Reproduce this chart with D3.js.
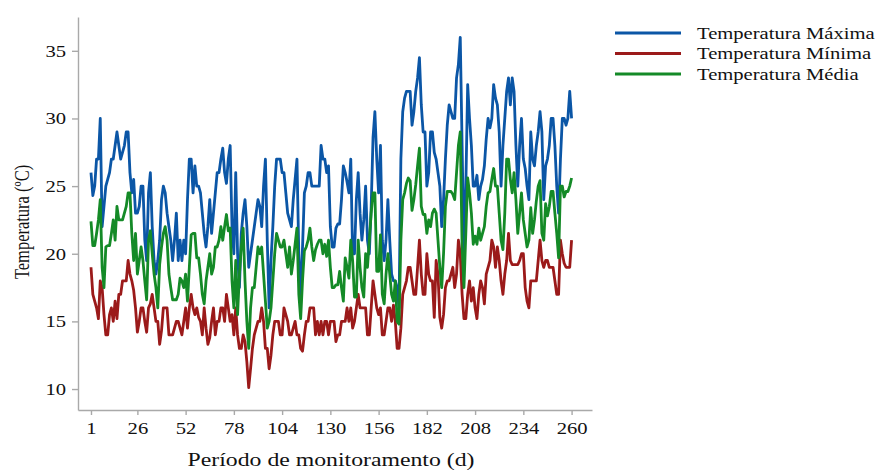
<!DOCTYPE html>
<html>
<head>
<meta charset="utf-8">
<script src="https://cdn.jsdelivr.net/npm/d3@7"></script>
<style>
  html, body { margin: 0; padding: 0; background: #fff; }
  svg { display: block; }
  text { font-family: "Liberation Serif", "Times New Roman", serif; fill: #111; }
</style>
</head>
<body>
<svg id="chart" width="879" height="470"></svg>
<script>
// ---- data ----
const xTicks = [1, 26, 52, 78, 104, 130, 156, 182, 208, 234, 260];
const yTicks = [10, 15, 20, 25, 30, 35];
const seriesNames = ["Temperatura Máxima", "Temperatura Mínima", "Temperatura Média"];
const seriesColors = ["#0b56a6", "#9b1a1a", "#148a27"];

const tMax = [
26,24.3,25,27,27,30,22,23.5,25,25.5, 26,27,27,28,29,28,27,27.5,28,29,
29,26,24.5,25.5,23,23,23.5,25,25,21, 19.5,24.5,26,22,19.5,18.5,19.5,21,24,25,
24.5,23,22,21,19.5,21,23,19.5,21,19.5, 21,20,24,27,27,24.5,26.5,25,25,24.5,
23,21.5,20.5,22,24,21.5,23,24.5,26,26, 27,27.8,26,25.2,27,28,22,20,26,20,
17.5,21.5,23,24,22,19,20,21,22,23, 24,23.5,22,25,27,21,16,19.5,22,25,
27,27,27,26,26,24.5,23,22.5,22,24, 25.5,27,20,16.8,20.5,24.5,25,26,26,25,
25,25,25,25,28,27,27,26,26.5,22, 20.5,20.5,21.9,22.2,22.2,24,26.5,26,25.3,24.5,
27,20,20,24,26,23,21,22.5,25,21, 20,23.5,28.6,30.5,27,24.5,28,21,19.5,21,
24,21,18.5,18,18,17.5,16,27,30.5,31.5, 32,32,32,29.5,30.5,32,33,34.5,31,29,
29,25,26,29,29,27.5,27,26,25,22, 24,27,29.5,31,30.5,30,30,33,34,36,
28,20,25,32.5,30,28,25,25,25.8,24, 25,25.5,26.5,28.5,30,29.3,30,32.5,31.5,31,
29,25,28,30,32,33,31,33,32,28, 25,28,30,27,26.3,25,24,29,27,26.5,
28,29,30.5,29,24,26.5,27,28,30,30, 28,25,23,27,30,30,29.5,30,32,30
];

const tMin = [
19,17,16.5,16,15.2,18,17.5,15.5,14,14, 15.5,16,15,16.5,15.2,17,17,18,18,18,
19.5,18.5,18,17.3,16,14.2,15,16,16,15, 14.2,16,16.3,17,16,15,15,13.3,14.3,16,
16,16,14,14,14,14.5,15,15,14.5,14, 15,16,14.5,16,17,16,15.5,16,15.3,15,
14,16,14.5,13.3,13.8,15,16,14,15,15, 16,16,15,17,16,15,15.5,14,16,14,
13,13,14,13.5,12,10.1,11.5,13,14,14.5, 15,15,16,15,13,13,11.5,12.5,14,15,
15,15,14,14,16,15.5,15,14,14,14.5, 15,14,14,13,12.8,14,15,15,16,16,
16,14,15,14,15,14,15,15,14,15, 15,15,13.5,14,14,15,15,15,16,15,
16,14.5,15,16,17,16,16,16,16,14, 14,16,18,17,16,15.5,16,14,14,15,
16,16,15,16.2,15,13,13,14.5,17,17.5, 18,19,19,18,17,17,19,21,18.5,17,
17,20,18.5,18,18,15.3,19.5,18.5,15.3,14.5, 15.5,17.5,18,18,18.5,19,17.5,18.5,21,20,
17,15.2,15.2,17,18,16.5,17.5,16,15.2,17, 18,17.5,16.3,18.5,19,19.5,21,20.5,19,20.5,
19.5,18,17,18.5,19.5,21.5,19.5,19.2,19.2,19.2, 19.2,19.5,20,20,17.5,16.5,16,18,18,18,
18,19.5,21,19.5,19,19.5,19.5,19,19,19, 18,17,17,21,20,19.3,19,19,19,21
];

const tMed = [
22.4,20.6,20.6,21.5,22.5,24,19,17.5,20.5,20.6, 20.6,21.5,22.5,21,23.5,22.5,22.5,22.5,23,23.5,
24.5,24.5,21.5,19.5,21.5,18.5,19.5,20.5,19.5,18, 16.6,21,21.7,20,18.5,17.5,16,19.2,20.5,21.5,
22,21,18.5,17.5,16.6,16.6,16.6,17,18.2,18, 17.5,18.5,16.5,19,21.4,21.5,21.5,19.7,19.7,18.5,
17,16.3,18,19,20,18.5,19,20.5,20.5,21, 22,21,22,22.9,21.7,21.9,18,16,19.5,15.5,
18.5,20.5,21.9,18,15,13,16,17.5,17.5,19, 20.5,20,20.5,18.5,16.5,14.5,15,16,18,20,
21.5,21,20.5,20.5,21,20,19,20.5,18.5,19.5, 20.7,21.9,17,15.2,18,20.2,20.5,21,21.9,20.5,
19.5,20.3,20.7,21,21,20,20.7,19.8,21,19, 17.5,17.5,17.7,17.7,18.7,17.5,16.5,19.7,19,18.2,
21,19.5,16.8,16.8,21,19,17.5,16.8,20,19, 21,23,24.5,24.5,18.7,18.7,21.4,17,16.3,18.5,
20,18.5,17,16.5,18,15,14.8,21,24,24.5, 25.2,25.6,25.4,23.2,24,25.1,26.5,27.8,23.5,22.9,
22.9,21.5,22.5,22,23,23.3,23,21,19,17.5, 20,23.5,24.6,24.6,24.6,24.4,24,26,28,29,
20.5,17.5,21.5,25.6,24.5,23,20.7,21.3,20.7,21.9, 21,21.5,22,23.5,24.5,24.6,25.5,26.3,25,25,
23,21,20.3,23,27,27,25.5,24.5,26,24, 21.5,23,24.5,22.5,21.5,20.5,21,23.4,21.5,22.5,
23.9,25,25.4,21.5,21,23.7,22.8,23.5,24.6,24.6, 23,21.5,19.7,25,25,24.2,24.6,24.6,25,25.6
];

(function () {
const days = d3.range(1, tMax.length + 1);
const allSeries = [tMax, tMin, tMed];

// ---- layout ----
const svg = d3.select("#chart");
const SX = 1.25; // horizontal text stretch seen in the reference
const mLeft = 78, mRight = 592, mTop = 17, mBottom = 410;

const x = d3.scaleLinear().domain([-6, 271]).range([mLeft, mRight]);
const y = d3.scaleLinear().domain([8.45, 37.5]).range([mBottom, mTop]);

const axisColor = "#a9a9a9";

const gx = svg.append("g")
  .attr("transform", `translate(0,${mBottom})`)
  .call(d3.axisBottom(x).tickValues(xTicks).tickSize(5).tickSizeOuter(0).tickPadding(7));
const gy = svg.append("g")
  .attr("transform", `translate(${mLeft},0)`)
  .call(d3.axisLeft(y).tickValues(yTicks).tickSize(6).tickSizeOuter(0).tickPadding(6));

[gx, gy].forEach(g => {
  g.select(".domain").attr("stroke", axisColor).attr("stroke-width", 1.4);
  g.selectAll(".tick line").attr("stroke", axisColor).attr("stroke-width", 1.4);
  g.selectAll(".tick text")
    .attr("font-family", "Liberation Serif, Times New Roman, serif")
    .attr("font-size", 16.5)
    .attr("fill", "#111");
});
gy.selectAll(".tick text").attr("x", -12 / SX).attr("transform", `scale(${SX},1)`);
gx.selectAll(".tick text").attr("transform", `scale(${SX},1)`);

const line = d3.line()
  .x((d, i) => x(days[i]))
  .y(d => y(d));

allSeries.forEach((s, k) => {
  svg.append("path")
    .datum(s)
    .attr("fill", "none")
    .attr("stroke", seriesColors[k])
    .attr("stroke-width", 2.8)
    .attr("stroke-linejoin", "round")
    .attr("d", line);
});

svg.append("text")
  .attr("transform", `translate(${(mLeft + mRight) / 2 - 4},466) scale(${SX},1)`)
  .attr("text-anchor", "middle")
  .attr("font-size", 19)
  .text("Período de monitoramento (d)");

svg.append("text")
  .attr("transform", `translate(29,222) scale(${SX},1) rotate(-90)`)
  .attr("text-anchor", "middle")
  .attr("font-size", 16.5)
  .text("Temperatura (ºC)");

const legendY = [33, 53.5, 74];
seriesNames.forEach((name, k) => {
  const g = svg.append("g").attr("transform", `translate(615,${legendY[k]})`);
  g.append("line").attr("x1", 0).attr("x2", 66).attr("y1", 0).attr("y2", 0)
    .attr("stroke", seriesColors[k]).attr("stroke-width", 2.8);
  g.append("text")
    .attr("transform", `translate(82,5.5) scale(${SX},1)`)
    .attr("font-size", 16.5)
    .text(name);
});
})();
</script>
</body>
</html>
